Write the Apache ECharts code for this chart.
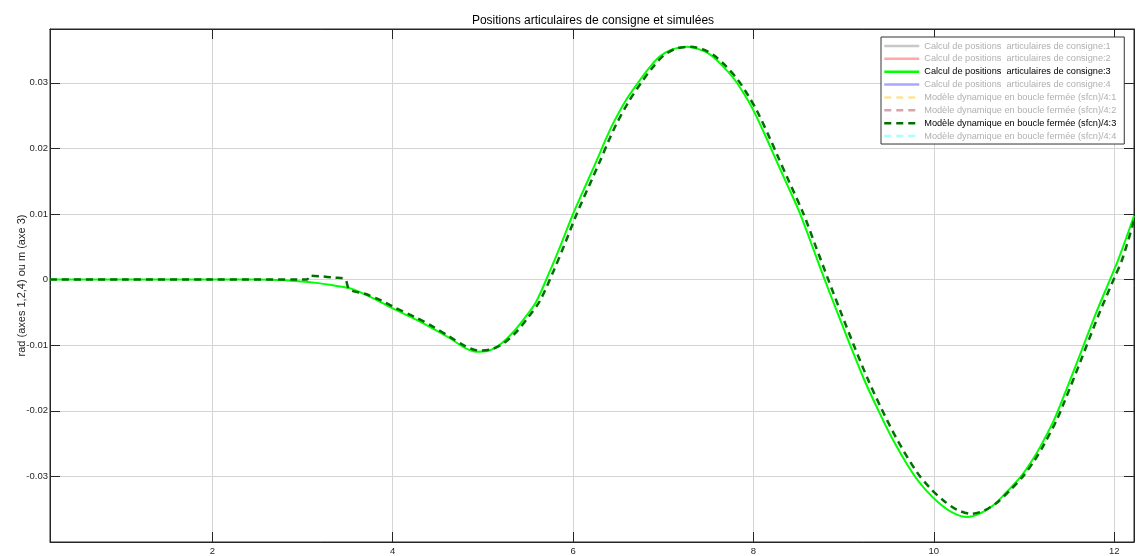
<!DOCTYPE html>
<html>
<head>
<meta charset="utf-8">
<script src="https://cdn.jsdelivr.net/npm/echarts@6/dist/echarts.min.js"></script>
<style>
html,body{margin:0;padding:0;background:#fff;}
#chart{width:1139px;height:556px;}
</style>
</head>
<body>
<div id="chart"></div>
<script>
// ---- data ----
const titleText = 'Positions articulaires de consigne et simulées';
const yAxisName = 'rad (axes 1,2,4) ou m (axe 3)';
const xTicks = [2, 4, 6, 8, 10, 12];
const yTicks = [-0.03, -0.02, -0.01, 0, 0.01, 0.02, 0.03];
const seriesNames = [
  'Calcul de positions  articulaires de consigne:1',
  'Calcul de positions  articulaires de consigne:2',
  'Calcul de positions  articulaires de consigne:3',
  'Calcul de positions  articulaires de consigne:4',
  'Modèle dynamique en boucle fermée (sfcn)/4:1',
  'Modèle dynamique en boucle fermée (sfcn)/4:2',
  'Modèle dynamique en boucle fermée (sfcn)/4:3',
  'Modèle dynamique en boucle fermée (sfcn)/4:4'
];
// consigne:3 (green solid)
const consigne3 = [
  [0.2,0],[1.0,0],[2.0,0],[2.5,0],[2.8,-0.0001],[3.0,-0.0003],[3.15,-0.0005],[3.3,-0.0008],
  [3.52,-0.0013],[3.7,-0.0023],[3.89,-0.0036],[4.0,-0.0044],[4.26,-0.0061],[4.45,-0.0075],
  [4.63,-0.0089],[4.8,-0.0104],[4.93,-0.0110],[5.05,-0.0109],[5.19,-0.0099],[5.33,-0.0081],
  [5.46,-0.0059],[5.59,-0.0034],[5.74,0.0012],[5.87,0.0055],[6.0,0.0100],[6.17,0.0153],
  [6.26,0.0181],[6.35,0.0210],[6.44,0.0237],[6.58,0.0272],[6.72,0.0300],[6.84,0.0322],
  [6.96,0.0340],[7.1,0.0351],[7.26,0.0355],[7.4,0.0351],[7.52,0.0343],[7.65,0.0327],
  [7.79,0.0305],[7.9,0.0282],[8.0,0.0258],[8.15,0.0214],[8.22,0.0192],[8.35,0.0152],
  [8.51,0.0103],[8.65,0.0052],[8.79,0.0000],[8.93,-0.0050],[9.07,-0.0099],[9.22,-0.0150],
  [9.37,-0.0195],[9.55,-0.0245],[9.77,-0.0296],[9.92,-0.0322],[10.07,-0.0342],[10.22,-0.0356],
  [10.37,-0.0362],[10.52,-0.0356],[10.66,-0.0344],[10.8,-0.0325],[10.96,-0.0301],[11.07,-0.0280],
  [11.18,-0.0255],[11.33,-0.0215],[11.4,-0.0192],[11.6,-0.0122],[11.79,-0.0054],[11.96,0.0002],
  [12.05,0.0032],[12.22,0.0097]
];
// sfcn/4:3 (dark green dashed)
const sfcn3 = [
  [0.2,0],[1.0,0],[2.0,0],[3.0,0],[3.05,0],[3.08,0.0006],[3.2,0.0005],[3.35,0.0003],[3.47,0.0001],
  [3.52,-0.0015],[3.7,-0.0022],[3.89,-0.0033],[4.0,-0.0041],[4.26,-0.0058],[4.45,-0.0072],
  [4.63,-0.0087],[4.8,-0.0101],[4.95,-0.0108],[5.1,-0.0106],[5.23,-0.0097],[5.37,-0.0080],
  [5.5,-0.0058],[5.63,-0.0033],[5.78,0.0012],[5.91,0.0055],[6.04,0.0100],[6.21,0.0153],
  [6.3,0.0181],[6.39,0.0210],[6.48,0.0237],[6.62,0.0272],[6.76,0.0301],[6.88,0.0323],
  [7.0,0.0341],[7.14,0.0352],[7.3,0.0355],[7.44,0.0351],[7.56,0.0342],[7.69,0.0326],
  [7.83,0.0304],[7.94,0.0281],[8.04,0.0257],[8.19,0.0213],[8.26,0.0191],[8.39,0.0151],
  [8.55,0.0102],[8.69,0.0051],[8.83,0.0000],[8.97,-0.0050],[9.11,-0.0099],[9.26,-0.0149],
  [9.41,-0.0194],[9.59,-0.0243],[9.81,-0.0293],[9.96,-0.0318],[10.11,-0.0337],[10.26,-0.0351],
  [10.42,-0.0357],[10.56,-0.0352],[10.7,-0.0340],[10.84,-0.0322],[11.0,-0.0298],[11.11,-0.0277],
  [11.22,-0.0252],[11.37,-0.0212],[11.44,-0.0189],[11.64,-0.0120],[11.83,-0.0053],[12.0,0.0002],
  [12.09,0.0031],[12.22,0.0090]
];
const emptySeries = [];

// ---- styles ----
const seriesColors = ['#c8c8c8','#ffa8a8','#00ff00','#a8a8ff','#ffe49a','#d8a4ac','#007000','#a8ffff'];
const seriesDashed = [false,false,false,false,true,true,true,true];
const seriesActive = [false,false,true,false,false,false,true,false];
const seriesData = [emptySeries, emptySeries, consigne3, emptySeries, emptySeries, emptySeries, sfcn3, emptySeries];

const fontFam = '"Liberation Sans", Arial, Helvetica, sans-serif';
const axisCol = '#262626';
const gridCol = '#d4d4d4';

const series = seriesNames.map((n, i) => ({
  name: n,
  type: 'line',
  data: seriesData[i],
  showSymbol: false,
  symbol: 'none',
  smooth: 0.3,
  z: seriesActive[i] ? 3 + i : 2,
  lineStyle: {
    color: seriesColors[i],
    width: seriesDashed[i] ? 2.5 : 2,
    type: seriesDashed[i] ? [7, 5] : 'solid'
  },
  itemStyle: { color: seriesColors[i] },
  animation: false
}));

const yFmt = v => (Math.abs(v) < 1e-9 ? '0' : String(+v.toFixed(2)));

const chart = echarts.init(document.getElementById('chart'), null, { renderer: 'canvas' });
chart.setOption({
  backgroundColor: '#fff',
  animation: false,
  textStyle: { fontFamily: fontFam },
  title: {
    text: titleText,
    left: 588, top: 10, textAlign: 'center',
    textStyle: { fontSize: 12, fontWeight: 'normal', color: '#000', fontFamily: fontFam }
  },
  legend: {
    orient: 'vertical',
    left: 881, top: 37,
    padding: [4, 8, 3, 2],
    itemGap: 2.86,
    itemWidth: 35, itemHeight: 10,
    backgroundColor: '#fff',
    borderColor: '#333', borderWidth: 1, borderRadius: 0,
    selectedMode: false,
    itemStyle: { opacity: 0 },
    lineStyle: { width: 2.5 },
    textStyle: { fontSize: 9.2, fontFamily: fontFam, lineHeight: 10 },
    data: seriesNames.map((n, i) => ({
      name: n,
      itemStyle: { opacity: 0 },
      textStyle: { color: seriesActive[i] ? '#000' : '#b0b0b0' }
    }))
  },
  grid: { left: 50, right: 5, top: 29, bottom: 11, show: true, borderColor: axisCol, borderWidth: 1, containLabel: false },
  xAxis: [{
    type: 'value', min: 0.2, max: 12.22,
    axisLine: { show: true, onZero: false, lineStyle: { color: axisCol } },
    axisTick: { show: true, inside: true, length: 10, customValues: xTicks, lineStyle: { color: axisCol } },
    axisLabel: { customValues: xTicks, color: axisCol, fontSize: 9.5, margin: 4, fontFamily: fontFam },
    splitLine: { show: true, lineStyle: { color: gridCol, width: 1 } }
  }, {
    type: 'value', min: 0.2, max: 12.22, position: 'top',
    axisLine: { show: true, onZero: false, lineStyle: { color: axisCol } },
    axisTick: { show: true, inside: true, length: 10, customValues: xTicks, lineStyle: { color: axisCol } },
    axisLabel: { show: false },
    splitLine: { show: false }
  }],
  yAxis: [{
    type: 'value', min: -0.04, max: 0.0382,
    name: yAxisName, nameLocation: 'middle', nameGap: 23, nameMoveOverlap: false,
    nameTextStyle: { fontSize: 11, color: axisCol, fontFamily: fontFam },
    axisLine: { show: true, onZero: false, lineStyle: { color: axisCol } },
    axisTick: { show: true, inside: true, length: 10, customValues: yTicks, lineStyle: { color: axisCol } },
    axisLabel: { customValues: yTicks, color: axisCol, fontSize: 9.5, margin: 2, formatter: yFmt, fontFamily: fontFam },
    splitLine: { show: true, lineStyle: { color: gridCol, width: 1 } }
  }, {
    type: 'value', min: -0.04, max: 0.0382, position: 'right',
    axisLine: { show: true, onZero: false, lineStyle: { color: axisCol } },
    axisTick: { show: true, inside: true, length: 10, customValues: yTicks, lineStyle: { color: axisCol } },
    axisLabel: { show: false },
    splitLine: { show: false }
  }],
  series: series
});
</script>
</body>
</html>
